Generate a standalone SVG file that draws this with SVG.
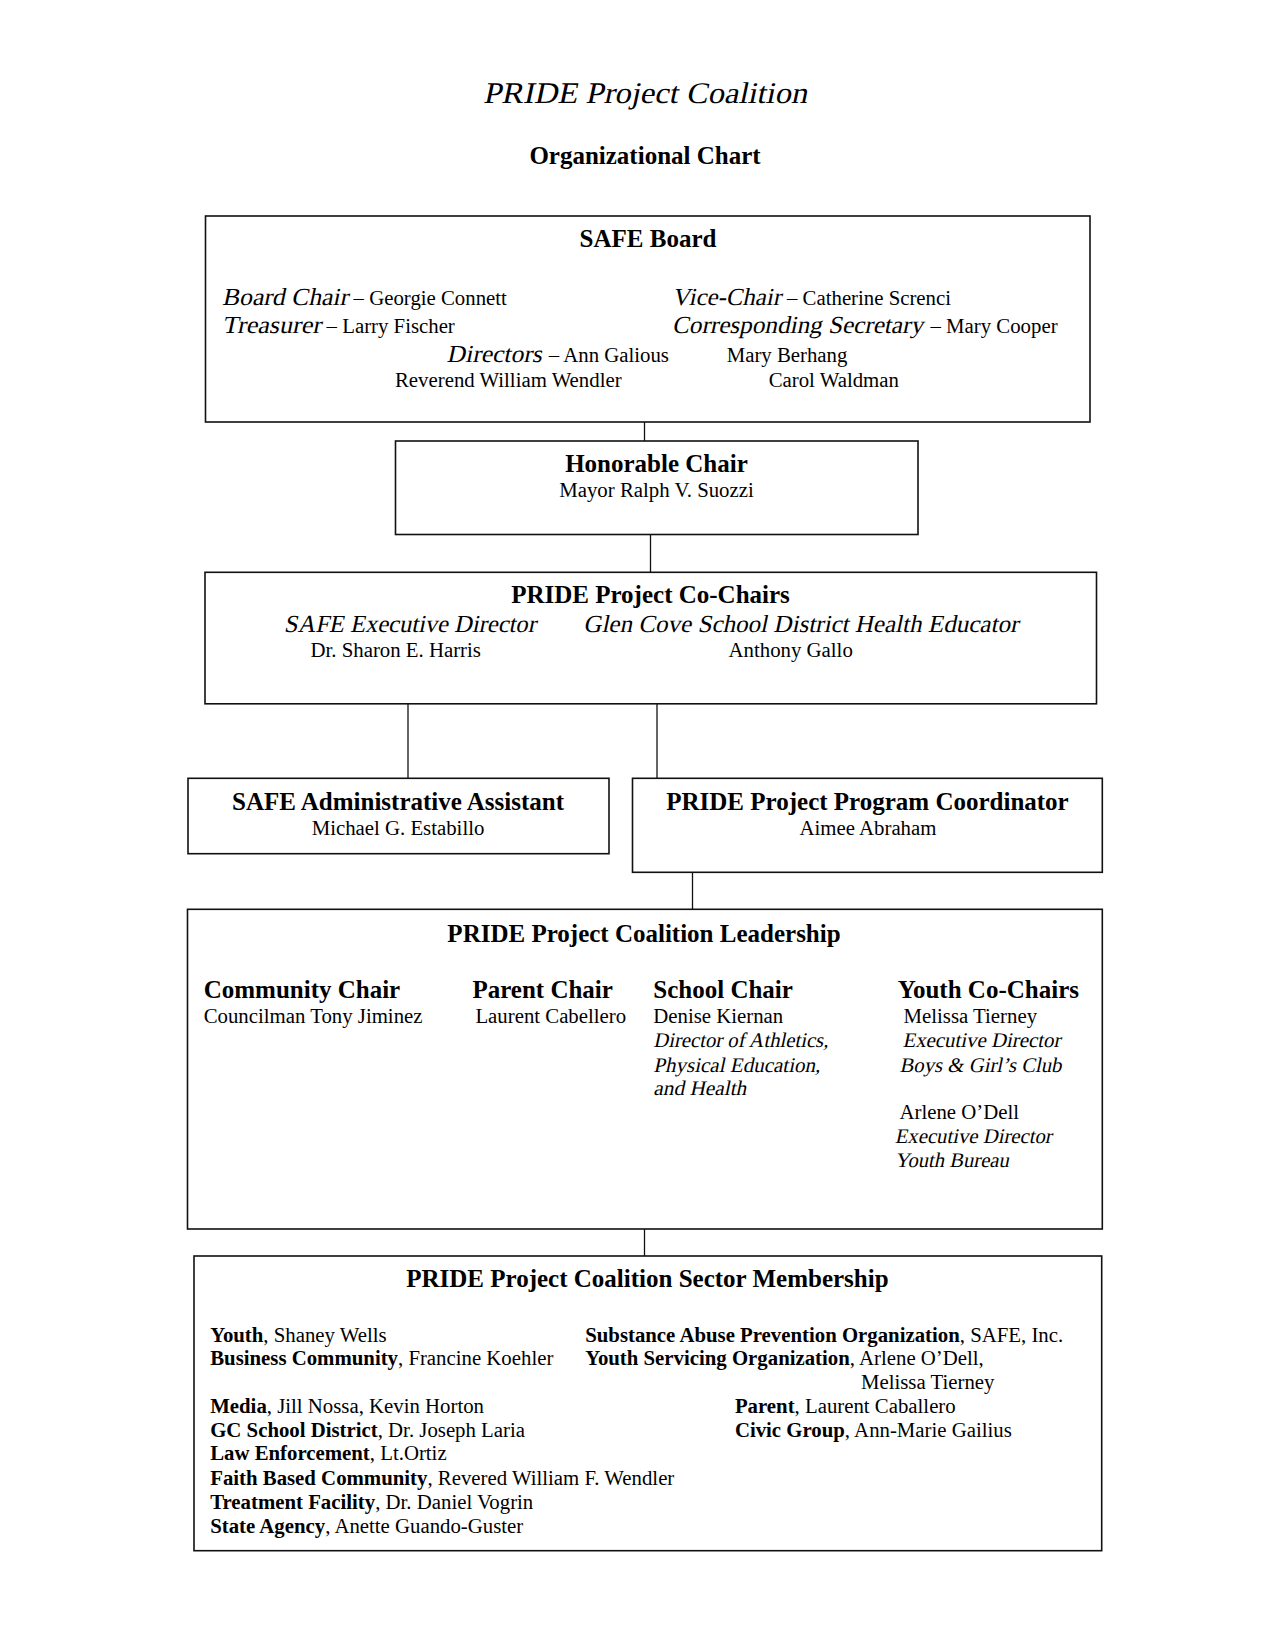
<svg xmlns="http://www.w3.org/2000/svg" width="1275" height="1651" viewBox="0 0 1275 1651">
<style>
text{font-family:"Liberation Serif","Times New Roman",serif;fill:#000;font-size:20.8px}
.title{font-size:30px}
.sub{font-size:25px;font-weight:bold;text-anchor:middle}
.h{font-size:25px;font-weight:bold}
.c{text-anchor:middle}
.i{font-size:24.5px}
.b{font-weight:bold}
.box{fill:#fff;stroke:#111;stroke-width:1.6}
.con{stroke:#111;stroke-width:1.3;fill:none}
</style>
<rect width="1275" height="1651" fill="#fff"/>
<text class="title" transform="translate(483,102.5) skewX(-12)" textLength="324" lengthAdjust="spacingAndGlyphs">PRIDE Project Coalition</text>
<text class="sub" x="645" y="164">Organizational Chart</text>

<g id="connectors">
<line class="con" x1="644.5" y1="422" x2="644.5" y2="441"/>
<line class="con" x1="650.5" y1="534" x2="650.5" y2="572"/>
<line class="con" x1="408" y1="704" x2="408" y2="778"/>
<line class="con" x1="657" y1="704" x2="657" y2="778"/>
<line class="con" x1="692.5" y1="872" x2="692.5" y2="909"/>
<line class="con" x1="644.5" y1="1229" x2="644.5" y2="1256"/>
</g>

<g id="safe-board">
<rect class="box" x="205.5" y="216" width="884.5" height="206"/>
<text class="h c" x="648" y="247.3">SAFE Board</text>
<text class="i" transform="translate(222,305) skewX(-12)" textLength="126" lengthAdjust="spacingAndGlyphs">Board Chair</text>
<text x="353.6" y="305">– Georgie Connett</text>
<text class="i" transform="translate(222,333) skewX(-12)" textLength="99" lengthAdjust="spacingAndGlyphs">Treasurer</text>
<text x="326.6" y="333">– Larry Fischer</text>
<text class="i" transform="translate(672,305) skewX(-12)" textLength="109" lengthAdjust="spacingAndGlyphs">Vice-Chair</text>
<text x="787" y="305">– Catherine Screnci</text>
<text class="i" transform="translate(672,333) skewX(-12)" textLength="251" lengthAdjust="spacingAndGlyphs">Corresponding Secretary</text>
<text x="930.5" y="333">– Mary Cooper</text>
<text class="i" transform="translate(446.6,361.7) skewX(-12)" textLength="95" lengthAdjust="spacingAndGlyphs">Directors</text>
<text x="548.8" y="361.7">– Ann Galious</text>
<text x="726.7" y="361.7">Mary Berhang</text>
<text x="395" y="387.3">Reverend William Wendler</text>
<text x="768.7" y="387.3">Carol Waldman</text>
</g>

<g id="honorable-chair">
<rect class="box" x="395.5" y="441" width="522.5" height="93.5"/>
<text class="h c" x="656.5" y="471.7">Honorable Chair</text>
<text class="c" x="656.5" y="496.7">Mayor Ralph V. Suozzi</text>
</g>

<g id="co-chairs">
<rect class="box" x="205" y="572.3" width="891.5" height="131.5"/>
<text class="h c" x="650.5" y="602.7">PRIDE Project Co-Chairs</text>
<text class="i" transform="translate(283.8,631.7) skewX(-12)" textLength="252" lengthAdjust="spacingAndGlyphs">SAFE Executive Director</text>
<text class="i" transform="translate(583.3,631.7) skewX(-12)" textLength="435" lengthAdjust="spacingAndGlyphs">Glen Cove School District Health Educator</text>
<text x="310.5" y="656.7">Dr. Sharon E. Harris</text>
<text x="728.6" y="656.7">Anthony Gallo</text>
</g>

<g id="admin-assistant">
<rect class="box" x="188" y="778.3" width="421" height="75.4"/>
<text class="h c" x="398" y="810">SAFE Administrative Assistant</text>
<text class="c" x="398" y="835">Michael G. Estabillo</text>
</g>

<g id="program-coordinator">
<rect class="box" x="632.5" y="778.3" width="469.8" height="94"/>
<text class="h c" x="867.5" y="810">PRIDE Project Program Coordinator</text>
<text class="c" x="868" y="835">Aimee Abraham</text>
</g>

<g id="coalition-leadership">
<rect class="box" x="187.5" y="909.3" width="914.8" height="319.7"/>
<text class="h c" x="644" y="941.7">PRIDE Project Coalition Leadership</text>
<text class="h" x="203.7" y="998.3">Community Chair</text>
<text x="203.7" y="1023.3">Councilman Tony Jiminez</text>
<text class="h" x="472.4" y="998.3">Parent Chair</text>
<text x="475.4" y="1023.3">Laurent Cabellero</text>
<text class="h" x="653.3" y="998.3">School Chair</text>
<text x="653.3" y="1023.3">Denise Kiernan</text>
<text transform="translate(653.3,1047.3) skewX(-12)" textLength="175" lengthAdjust="spacingAndGlyphs">Director of Athletics,</text>
<text transform="translate(653.3,1071.7) skewX(-12)" textLength="167" lengthAdjust="spacingAndGlyphs">Physical Education,</text>
<text transform="translate(653.3,1095) skewX(-12)" textLength="93" lengthAdjust="spacingAndGlyphs">and Health</text>
<text class="h" x="897.7" y="998.3">Youth Co-Chairs</text>
<text x="903.6" y="1023.3">Melissa Tierney</text>
<text transform="translate(902.4,1047.3) skewX(-12)" textLength="158" lengthAdjust="spacingAndGlyphs">Executive Director</text>
<text transform="translate(899.5,1071.7) skewX(-12)" textLength="162" lengthAdjust="spacingAndGlyphs">Boys &amp; Girl’s Club</text>
<text x="899.5" y="1119">Arlene O’Dell</text>
<text transform="translate(894.7,1143.3) skewX(-12)" textLength="157" lengthAdjust="spacingAndGlyphs">Executive Director</text>
<text transform="translate(894.7,1166.7) skewX(-12)" textLength="114" lengthAdjust="spacingAndGlyphs">Youth Bureau</text>
</g>

<g id="sector-membership">
<rect class="box" x="194" y="1256" width="907.7" height="294.7"/>
<text class="h c" x="647.4" y="1286.7">PRIDE Project Coalition Sector Membership</text>
<text x="210.2" y="1341.7"><tspan class="b">Youth</tspan>, Shaney Wells</text>
<text x="210.2" y="1365"><tspan class="b">Business Community</tspan>, Francine Koehler</text>
<text x="210.2" y="1413.3"><tspan class="b">Media</tspan>, Jill Nossa, Kevin Horton</text>
<text x="210.2" y="1436.7"><tspan class="b">GC School District</tspan>, Dr. Joseph Laria</text>
<text x="210.2" y="1460"><tspan class="b">Law Enforcement</tspan>, Lt.Ortiz</text>
<text x="210.2" y="1485"><tspan class="b">Faith Based Community</tspan>, Revered William F. Wendler</text>
<text x="210.2" y="1509.3"><tspan class="b">Treatment Facility</tspan>, Dr. Daniel Vogrin</text>
<text x="210.2" y="1533.3"><tspan class="b">State Agency</tspan>, Anette Guando-Guster</text>
<text x="585.2" y="1341.7"><tspan class="b">Substance Abuse Prevention Organization</tspan>, SAFE, Inc.</text>
<text x="585.2" y="1365"><tspan class="b">Youth Servicing Organization</tspan>, Arlene O’Dell,</text>
<text x="861" y="1389">Melissa Tierney</text>
<text x="734.9" y="1413.3"><tspan class="b">Parent</tspan>, Laurent Caballero</text>
<text x="734.9" y="1436.7"><tspan class="b">Civic Group</tspan>, Ann-Marie Gailius</text>
</g>
</svg>
